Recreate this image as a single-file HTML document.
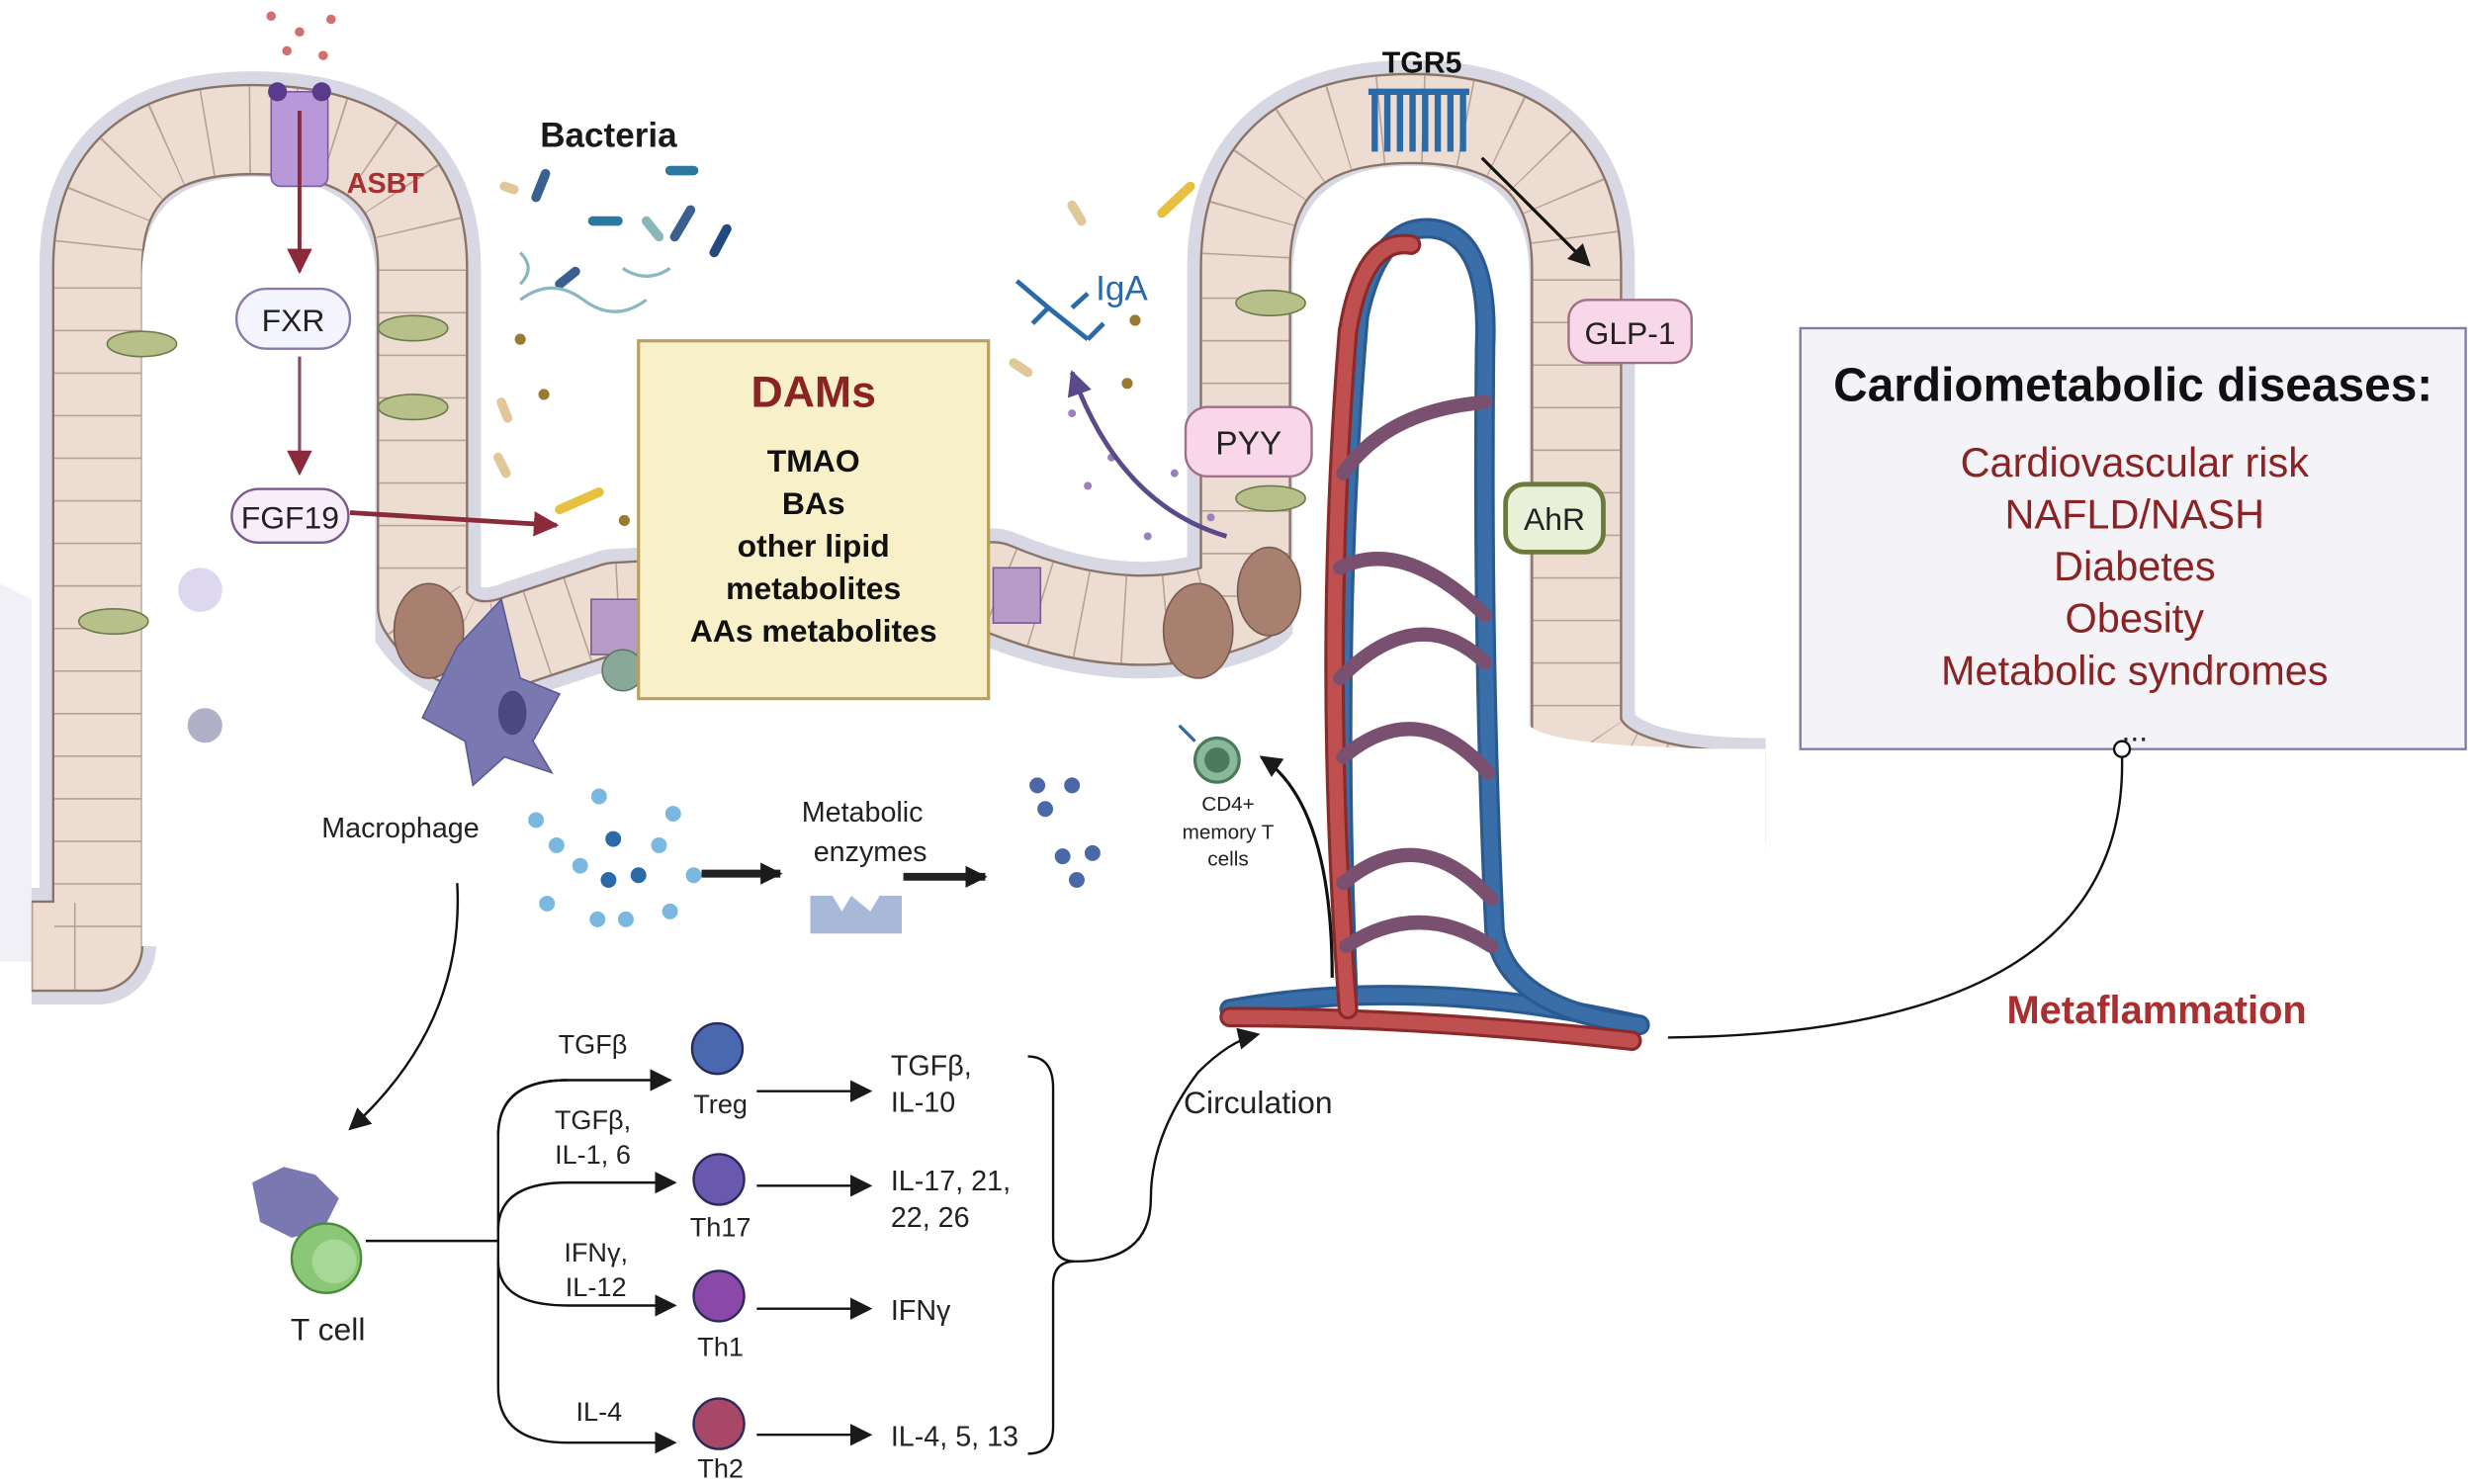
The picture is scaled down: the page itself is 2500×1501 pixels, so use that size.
<!DOCTYPE html>
<html><head><meta charset="utf-8"><style>
html,body{margin:0;padding:0;background:#fff;}
svg{display:block;}
text{font-family:"Liberation Sans",sans-serif;}
</style></head><body>
<svg width="2500" height="1501" viewBox="0 0 1568 941" xmlns="http://www.w3.org/2000/svg">
<defs>
<marker id="ak" markerWidth="8" markerHeight="8" refX="6" refY="4" orient="auto" markerUnits="userSpaceOnUse"><path d="M0,0 L8,4 L0,8 z" fill="#1a1a1a" transform="scale(1.6) translate(-2,-2)"/></marker>
<marker id="a" viewBox="0 0 10 10" refX="9" refY="5" markerWidth="14" markerHeight="14" orient="auto" markerUnits="userSpaceOnUse"><path d="M0,0 L10,5 L0,10 z" fill="#1a1a1a"/></marker>
<marker id="ar" viewBox="0 0 10 10" refX="9" refY="5" markerWidth="16" markerHeight="16" orient="auto" markerUnits="userSpaceOnUse"><path d="M0,0 L10,5 L0,10 z" fill="#8a2a3a"/></marker>
<marker id="ap" viewBox="0 0 10 10" refX="9" refY="5" markerWidth="16" markerHeight="16" orient="auto" markerUnits="userSpaceOnUse"><path d="M0,0 L10,5 L0,10 z" fill="#5a4a8a"/></marker>
</defs>
<rect width="1568" height="941" fill="#fff"/>
<!-- lumen-side light fill -->
<path d="M0,370 L0,610 L20,610 L20,380 Z" fill="#f0f0f6"/>
<!-- epithelium -->
<g fill="none" stroke-linejoin="round">
<path d="M20,600 L62,600 L62,170 Q62,82 160,82 Q268,82 268,170 L268,385 Q290,420 330,405 L390,385 L630,372 Q720,410 790,380 L790,170 Q790,75 895,75 Q1000,75 1000,170 L1000,460 Q1010,505 1120,505" stroke="#d8d8e4" stroke-width="74"/>
<path d="M20,600 L62,600 L62,170 Q62,82 160,82 Q268,82 268,170 L268,385 Q290,420 330,405 L390,385 L630,372 Q720,410 790,380 L790,170 Q790,75 895,75 Q1000,75 1000,170 L1000,460 Q1010,505 1120,505" stroke="#8a7468" stroke-width="58"/>
<path d="M20,600 L62,600 L62,170 Q62,82 160,82 Q268,82 268,170 L268,385 Q290,420 330,405 L390,385 L630,372 Q720,410 790,380 L790,170 Q790,75 895,75 Q1000,75 1000,170 L1000,460 Q1010,505 1120,505" stroke="#ecdcd2" stroke-width="55"/>
<path d="M20,600 L62,600 L62,170 Q62,82 160,82 Q268,82 268,170 L268,385 Q290,420 330,405 L390,385 L630,372 Q720,410 790,380 L790,170 Q790,75 895,75 Q1000,75 1000,170 L1000,460 Q1010,505 1120,505" stroke="#b8a094" stroke-width="55" stroke-dasharray="1 26"/>
</g>
<!-- inner white channels -->
<path d="M90,600 L90,175 Q90,112 160,112 Q238,112 238,175 L238,600" fill="#fff"/>
<path d="M820,520 L820,175 Q820,105 895,105 Q970,105 970,175 L970,460 Q985,475 1120,475 L1120,640 L820,640Z" fill="#fff"/>
<!-- basal cells -->
<g fill="#a88070" stroke="#7a5a50" stroke-width="1">
<ellipse cx="272" cy="400" rx="22" ry="30"/><ellipse cx="760" cy="400" rx="22" ry="30"/><ellipse cx="805" cy="375" rx="20" ry="28"/>
</g>
<rect x="375" y="380" width="30" height="35" fill="#b89cc8" stroke="#7a5a8a"/>
<rect x="630" y="360" width="30" height="35" fill="#b89cc8" stroke="#7a5a8a"/>
<circle cx="395" cy="425" r="13" fill="#8aa898" stroke="#5a7a68"/>
<!-- goblet cells -->
<g fill="#b8c08a" stroke="#6a7a4a">
<ellipse cx="90" cy="218" rx="22" ry="8"/><ellipse cx="262" cy="208" rx="22" ry="8"/><ellipse cx="262" cy="258" rx="22" ry="8"/><ellipse cx="72" cy="394" rx="22" ry="8"/><ellipse cx="806" cy="192" rx="22" ry="8"/><ellipse cx="806" cy="316" rx="22" ry="8"/>
</g>
<!-- blood vessels -->
<g fill="none" stroke-linecap="round">
<path d="M780,640 Q900,618 1040,650" stroke="#2a5a90" stroke-width="13"/>
<path d="M780,640 Q900,618 1040,650" stroke="#3a6ea8" stroke-width="9"/>
<path d="M855,630 Q845,400 862,200 Q875,140 910,145 Q945,150 942,220 Q940,420 948,590 Q955,640 1040,650" stroke="#2a5a90" stroke-width="13"/>
<path d="M855,630 Q845,400 862,200 Q875,140 910,145 Q945,150 942,220 Q940,420 948,590 Q955,640 1040,650" stroke="#3a6ea8" stroke-width="9"/>
<path d="M780,645 Q900,645 1035,660" stroke="#8a2a2a" stroke-width="13"/>
<path d="M780,645 Q900,645 1035,660" stroke="#c05050" stroke-width="9"/>
<path d="M855,640 Q838,420 855,210 Q865,150 895,155" stroke="#8a2a2a" stroke-width="13"/>
<path d="M855,640 Q838,420 855,210 Q865,150 895,155" stroke="#c05050" stroke-width="9"/>
<g stroke="#7a5070" stroke-width="9">
<path d="M852,300 Q880,260 942,255"/><path d="M850,360 Q890,340 942,390"/><path d="M850,430 Q900,380 942,420"/><path d="M852,480 Q900,440 944,490"/><path d="M852,560 Q900,520 946,570"/><path d="M854,600 Q900,570 946,600"/>
</g>
</g>
<!-- ASBT -->
<rect x="172" y="58" width="36" height="60" rx="6" fill="#b898d8" stroke="#7a5aa8"/>
<circle cx="176" cy="58" r="6" fill="#5a3a8a"/><circle cx="204" cy="58" r="6" fill="#5a3a8a"/>
<g fill="#d07070"><circle cx="172" cy="10" r="3"/><circle cx="190" cy="20" r="3"/><circle cx="210" cy="12" r="3"/><circle cx="182" cy="32" r="3"/><circle cx="205" cy="35" r="3"/></g>
<text x="220" y="122" font-size="18" font-weight="bold" fill="#a83030">ASBT</text>
<line x1="190" y1="70" x2="190" y2="172" stroke="#8a2a3a" stroke-width="2.5" marker-end="url(#ar)"/>
<rect x="150" y="183" width="72" height="38" rx="19" fill="#f4f4ff" stroke="#8a7aa8" stroke-width="1.5"/>
<text x="186" y="210" font-size="20" text-anchor="middle" fill="#222">FXR</text>
<line x1="190" y1="226" x2="190" y2="300" stroke="#8a4a6a" stroke-width="2" marker-end="url(#ar)"/>
<rect x="147" y="310" width="74" height="34" rx="17" fill="#f8eefa" stroke="#7a5a8a" stroke-width="1.5"/>
<text x="184" y="335" font-size="20" text-anchor="middle" fill="#222">FGF19</text>
<line x1="222" y1="325" x2="353" y2="333" stroke="#8a2a3a" stroke-width="3" marker-end="url(#ar)"/>
<!-- bacteria -->
<text x="386" y="93" font-size="22" font-weight="bold" text-anchor="middle" fill="#1a1a1a">Bacteria</text>
<g stroke-linecap="round" stroke-width="6">
<line x1="340" y1="125" x2="346" y2="110" stroke="#3a6090"/><line x1="376" y1="140" x2="392" y2="140" stroke="#2a7aa0"/><line x1="425" y1="108" x2="440" y2="108" stroke="#2a7aa0"/><line x1="428" y1="150" x2="438" y2="133" stroke="#3a6090"/><line x1="355" y1="180" x2="365" y2="172" stroke="#3a6090"/><line x1="453" y1="160" x2="461" y2="145" stroke="#234a80"/><line x1="410" y1="140" x2="418" y2="150" stroke="#8ab8b8"/><line x1="320" y1="118" x2="326" y2="120" stroke="#e0c898"/><line x1="737" y1="135" x2="755" y2="118" stroke="#e8c040"/><line x1="680" y1="130" x2="686" y2="140" stroke="#e0c898"/><line x1="355" y1="323" x2="380" y2="312" stroke="#e8c040"/><line x1="316" y1="290" x2="321" y2="300" stroke="#e0c898"/><line x1="318" y1="255" x2="322" y2="265" stroke="#e0c898"/><line x1="643" y1="230" x2="652" y2="236" stroke="#e0c898"/>
</g>
<g fill="none" stroke="#8ab8c0" stroke-width="2"><path d="M330,190 q20,-15 40,0 q20,15 40,0"/><path d="M395,170 q15,10 30,0"/><path d="M330,160 q10,10 0,20"/></g>
<g fill="#9a7a30"><circle cx="345" cy="250" r="3.5"/><circle cx="720" cy="203" r="3.5"/><circle cx="396" cy="330" r="3.5"/><circle cx="715" cy="243" r="3.5"/><circle cx="330" cy="215" r="3.5"/></g>
<!-- IgA -->
<g stroke="#2a6aa8" stroke-width="3" fill="none"><path d="M645,178 L665,195 L690,215 M690,215 L700,205 M680,195 L690,186 M665,195 L655,205"/></g>
<text x="695" y="190" font-size="22" fill="#2a6aa8">IgA</text>
<g fill="#9a80c0"><circle cx="680" cy="262" r="2.5"/><circle cx="705" cy="290" r="2.5"/><circle cx="690" cy="308" r="2.5"/><circle cx="745" cy="300" r="2.5"/><circle cx="728" cy="340" r="2.5"/><circle cx="768" cy="328" r="2.5"/></g>
<path d="M778,340 Q710,320 680,236" fill="none" stroke="#5a4a8a" stroke-width="3" marker-end="url(#ap)"/>
<!-- DAMs box -->
<rect x="405" y="216" width="222" height="227" fill="#f8f0c8" stroke="#b8a060" stroke-width="2"/>
<text x="516" y="258" font-size="28" font-weight="bold" text-anchor="middle" fill="#8a2323">DAMs</text>
<g font-size="20" font-weight="bold" text-anchor="middle" fill="#111">
<text x="516" y="299">TMAO</text><text x="516" y="326">BAs</text><text x="516" y="353">other lipid</text><text x="516" y="380">metabolites</text><text x="516" y="407">AAs metabolites</text>
</g>
<!-- TGR5 -->
<text x="902" y="46" font-size="19" font-weight="bold" text-anchor="middle" fill="#111">TGR5</text>
<g stroke="#2a6aa8" stroke-width="4" fill="none"><path d="M872,58 v38 M880,58 v38 M888,58 v38 M896,58 v38 M904,58 v38 M912,58 v38 M920,58 v38 M928,58 v38"/><path d="M868,58 h64"/></g>
<line x1="940" y1="100" x2="1008" y2="168" stroke="#111" stroke-width="2" marker-end="url(#a)"/>
<rect x="995" y="190" width="78" height="40" rx="12" fill="#f8d8e8" stroke="#a0708a" stroke-width="1.5"/>
<text x="1034" y="218" font-size="20" text-anchor="middle" fill="#222">GLP-1</text>
<rect x="752" y="258" width="80" height="44" rx="14" fill="#f8d8e8" stroke="#a0708a" stroke-width="1.5"/>
<text x="792" y="288" font-size="21" text-anchor="middle" fill="#222">PYY</text>
<rect x="955" y="307" width="62" height="43" rx="12" fill="#e8f0d8" stroke="#6a7a3a" stroke-width="3"/>
<text x="986" y="336" font-size="20" text-anchor="middle" fill="#222">AhR</text>
<!-- macrophage -->
<path d="M290,410 L318,380 L330,430 L355,440 L338,470 L350,490 L320,480 L300,498 L295,470 L268,455 Z" fill="#7a78b0" stroke="#5a5890"/>
<ellipse cx="325" cy="452" rx="9" ry="14" fill="#4a4880"/>
<circle cx="127" cy="374" r="14" fill="#ddd8f0"/><circle cx="130" cy="460" r="11" fill="#b0b0c8"/>
<text x="254" y="531" font-size="18" text-anchor="middle" fill="#222">Macrophage</text>
<!-- dots -->
<g fill="#7ab8e0"><circle cx="340" cy="520" r="5"/><circle cx="380" cy="505" r="5"/><circle cx="427" cy="516" r="5"/><circle cx="353" cy="536" r="5"/><circle cx="418" cy="536" r="5"/><circle cx="347" cy="573" r="5"/><circle cx="379" cy="583" r="5"/><circle cx="397" cy="583" r="5"/><circle cx="425" cy="578" r="5"/><circle cx="440" cy="555" r="5"/><circle cx="368" cy="549" r="5"/></g>
<g fill="#2a6aa8"><circle cx="389" cy="532" r="5"/><circle cx="386" cy="558" r="5"/><circle cx="405" cy="555" r="5"/></g>
<line x1="445" y1="554" x2="495" y2="554" stroke="#222" stroke-width="5" marker-end="url(#a)"/>
<text x="547" y="521" font-size="18" text-anchor="middle" fill="#222">Metabolic</text>
<text x="552" y="546" font-size="18" text-anchor="middle" fill="#222">enzymes</text>
<path d="M514,568 L528,568 L534,578 L540,568 L552,578 L558,568 L572,568 L572,592 L514,592 Z" fill="#a8b8d8"/>
<line x1="573" y1="556" x2="625" y2="556" stroke="#222" stroke-width="5" marker-end="url(#a)"/>
<g fill="#4a68a8"><circle cx="658" cy="498" r="5"/><circle cx="680" cy="498" r="5"/><circle cx="663" cy="513" r="5"/><circle cx="674" cy="543" r="5"/><circle cx="693" cy="541" r="5"/><circle cx="683" cy="558" r="5"/></g>
<!-- CD4 -->
<circle cx="772" cy="482" r="14" fill="#8ab89a" stroke="#4a7a5a" stroke-width="2"/><circle cx="772" cy="482" r="8" fill="#4a7a5a"/>
<line x1="758" y1="470" x2="748" y2="460" stroke="#2a6aa8" stroke-width="2"/>
<g font-size="13" text-anchor="middle" fill="#222"><text x="779" y="514">CD4+</text><text x="779" y="532">memory T</text><text x="779" y="549">cells</text></g>
<path d="M845,620 Q845,510 800,480" fill="none" stroke="#111" stroke-width="2" marker-end="url(#a)"/>
<!-- macrophage to T cell -->
<path d="M290,560 Q295,650 222,716" fill="none" stroke="#111" stroke-width="1.5" marker-end="url(#a)"/>
<!-- T cell -->
<path d="M160,750 L180,740 L200,745 L215,760 L205,780 L185,785 L165,775Z" fill="#7a78b0"/>
<circle cx="207" cy="798" r="22" fill="#8ac878" stroke="#4a8a3a" stroke-width="1.5"/><circle cx="212" cy="800" r="14" fill="#a8d898"/>
<text x="208" y="850" font-size="20" text-anchor="middle" fill="#222">T cell</text>
<path d="M232,787 L316,787" stroke="#111" stroke-width="1.5" fill="none"/>
<path d="M360,685 Q316,685 316,720 L316,880 Q316,915 360,915" fill="none" stroke="#111" stroke-width="1.5"/>
<g stroke="#111" stroke-width="1.5" fill="none">
<path d="M316,720 Q316,685 360,685 L425,685" marker-end="url(#a)"/>
<path d="M316,780 Q316,750 360,750 L428,750" marker-end="url(#a)"/>
<path d="M316,800 Q316,828 360,828 L428,828" marker-end="url(#a)"/>
<path d="M360,915 L428,915" marker-end="url(#a)"/>
<path d="M480,692 L552,692" marker-end="url(#a)"/><path d="M480,752 L552,752" marker-end="url(#a)"/><path d="M480,830 L552,830" marker-end="url(#a)"/><path d="M480,910 L552,910" marker-end="url(#a)"/>
</g>
<g font-size="17" fill="#222" text-anchor="middle">
<text x="376" y="668">TGFβ</text><text x="376" y="716">TGFβ,</text><text x="376" y="738">IL-1, 6</text><text x="378" y="800">IFNγ,</text><text x="378" y="822">IL-12</text><text x="380" y="901">IL-4</text>
<text x="457" y="706">Treg</text><text x="457" y="784">Th17</text><text x="457" y="860">Th1</text><text x="457" y="937">Th2</text>
</g>
<g font-size="18" fill="#222">
<text x="565" y="682">TGFβ,</text><text x="565" y="705">IL-10</text><text x="565" y="755">IL-17, 21,</text><text x="565" y="778">22, 26</text><text x="565" y="837">IFNγ</text><text x="565" y="917">IL-4, 5, 13</text>
</g>
<g stroke="#2a2a5a" stroke-width="1.5"><circle cx="455" cy="665" r="16" fill="#4a68b0"/><circle cx="456" cy="748" r="16" fill="#6a58b0"/><circle cx="456" cy="822" r="16" fill="#8a48a8"/><circle cx="456" cy="903" r="16" fill="#a84868"/></g>
<path d="M652,670 Q668,670 668,690 L668,785 Q668,800 682,800 Q668,800 668,815 L668,905 Q668,922 652,922" fill="none" stroke="#111" stroke-width="1.5"/>
<path d="M682,800 Q730,800 730,760 Q730,720 760,680 Q780,660 798,656" fill="none" stroke="#111" stroke-width="1.5" marker-end="url(#a)"/>
<text x="798" y="706" font-size="20" text-anchor="middle" fill="#222">Circulation</text>
<!-- right box -->
<rect x="1142" y="208" width="422" height="267" fill="#f4f4f8" stroke="#8080a0" stroke-width="1.5"/>
<text x="1353" y="254" font-size="30" font-weight="bold" text-anchor="middle" fill="#111">Cardiometabolic diseases:</text>
<g font-size="26" text-anchor="middle" fill="#8a2323">
<text x="1354" y="302">Cardiovascular risk</text><text x="1354" y="335">NAFLD/NASH</text><text x="1354" y="368">Diabetes</text><text x="1354" y="401">Obesity</text><text x="1354" y="434">Metabolic syndromes</text>
</g>
<text x="1354" y="470" font-size="20" text-anchor="middle" fill="#222">...</text>
<circle cx="1346" cy="475" r="5" fill="#fff" stroke="#111" stroke-width="1.5"/>
<path d="M1346,480 Q1350,655 1058,658" fill="none" stroke="#111" stroke-width="1.5"/>
<text x="1368" y="649" font-size="25" font-weight="bold" text-anchor="middle" fill="#a83030">Metaflammation</text>
</svg>
</body></html>
